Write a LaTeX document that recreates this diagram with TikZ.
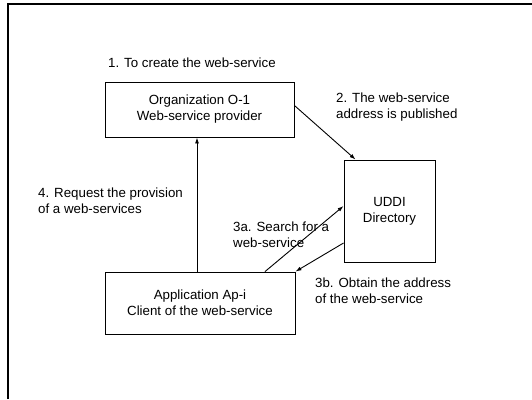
\documentclass[tikz,border=0pt]{standalone}
\usepackage{fontspec}
\setmainfont{Liberation Sans}
\usetikzlibrary{arrows.meta}
\tikzset{
	boite/.style={draw,line width=0.9pt,inner sep=0pt,align=center},
	legende/.style={anchor=west,inner sep=0pt,align=left},
	fleche/.style={line width=0.9pt,-{Latex[length=6pt,width=4pt]}}
}
\begin{document}
\begin{tikzpicture}[x=1pt,y=-1pt,font=\fontsize{13.3}{16}\selectfont]
	\useasboundingbox (0,0) rectangle (532,399);
		\draw[line width=2pt] (8,399)--(8,4)--(532,4);
			\node[boite,minimum width=189pt,minimum height=55pt] (o1) at (199.5,109.5) {Organization O-1\\Web-service provider};
			\node[boite,minimum width=91pt,minimum height=102pt] (uddi) at (389.5,211) {UDDI\\Directory};
			\node[boite,minimum width=190pt,minimum height=62pt] (api) at (200,303) {Application Ap-i\\Client of the web-service};
			\node[legende] (l1) at (108,63) {1. To create the web-service};
			\node[legende] (l2) at (336,107) {2. The web-service\\address is published};
			\node[legende] (l4) at (38,200.5) {4. Request the provision\\of a web-services};
			\node[legende] (l3a) at (233,235) {3a. Search for a\\web-service};
			\node[legende] (l3b) at (315,290.5) {3b. Obtain the address\\of the web-service};
				\draw[fleche] ([yshift=4pt]o1.east)--([xshift=12pt]uddi.north west);
				\draw[fleche] ([xshift=-3pt]api.north)--([xshift=-3pt]api.north |- o1.south);
				\draw[fleche] ([xshift=65pt]api.north)--([yshift=5pt]uddi.west);
				\draw[fleche] ([yshift=-32pt]uddi.west)--(api.north east);
	\end{tikzpicture}
\end{document}
